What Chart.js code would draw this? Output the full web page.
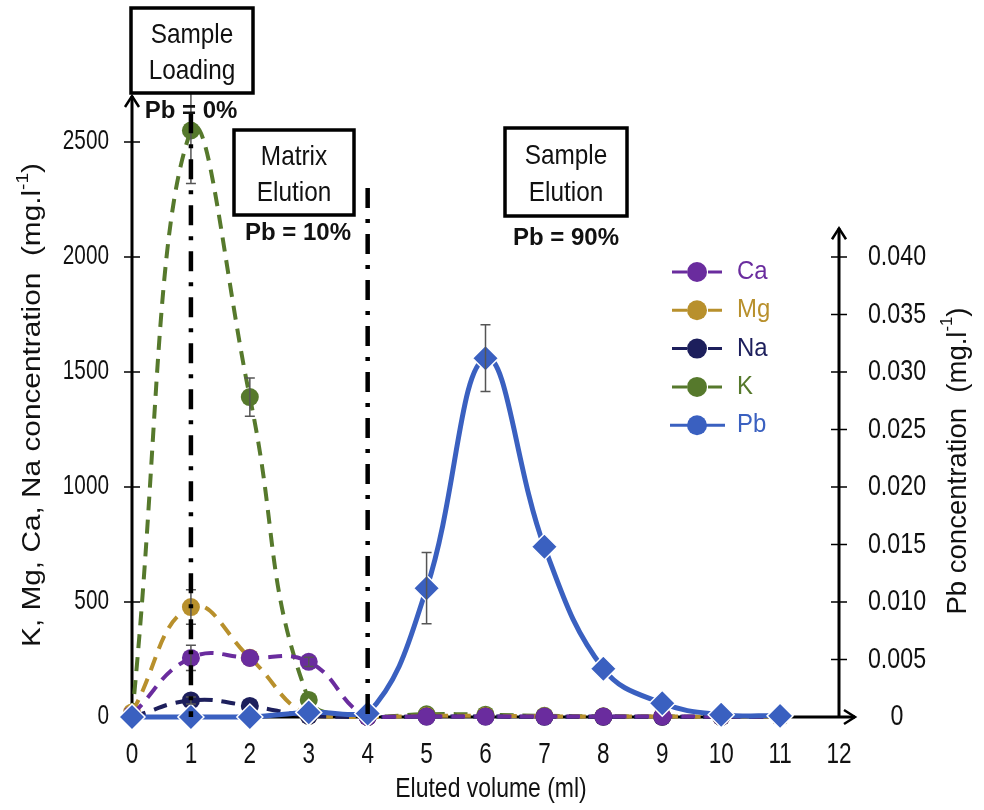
<!DOCTYPE html>
<html>
<head>
<meta charset="utf-8">
<script src="https://cdn.jsdelivr.net/npm/chart.js@4.4.1/dist/chart.umd.min.js"></script>
<style>
  body { margin: 0; background: #fff; }
  #wrap { width: 984px; height: 810px; position: relative; }
</style>
</head>
<body>
<div id="wrap"><canvas id="elutionChart"></canvas></div>
<script>
// eluted volume (ml)
const volumes = [0, 1, 2, 3, 4, 5, 6, 7, 8, 9, 10, 11];

// matrix elements (mg/l), left axis
const caValues = [10, 257, 257, 240, 0, 2, 2, 2, 2, 2, 2, 2];
const mgValues = [20, 478, 258, 5, 0, 5, 5, 3, 2, 2, 1, 1];
const naValues = [0, 72, 48, 5, 0, 2, 2, 1, 1, 1, 1, 1];
const kValues = [0, 2550, 1391, 74, 0, 12, 10, 5, 3, 2, 1, 1];
// lead (mg/l), right axis
const pbValues = [0, 0, 0, 0.0004, 0.0003, 0.0112, 0.0312, 0.0148, 0.0042, 0.0012, 0.0002, 0.0001];

// error bars (+/-)
const caErr = [0, 55, 0, 20, 0, 0, 0, 0, 0, 0, 0, 0];
const mgErr = [0, 75, 0, 0, 0, 0, 0, 0, 0, 0, 0, 0];
const naErr = [0, 15, 0, 0, 0, 0, 0, 0, 0, 0, 0, 0];
const kErr = [0, 230, 83, 0, 0, 0, 0, 0, 0, 0, 0, 0];
const pbErr = [0, 0, 0, 0, 0, 0.0031, 0.0029, 0, 0, 0, 0, 0];

// tick labels
const xTicks = [0, 1, 2, 3, 4, 5, 6, 7, 8, 9, 10, 11, 12];
const leftTicks = [0, 500, 1000, 1500, 2000, 2500];
const rightTicks = [0, 0.005, 0.010, 0.015, 0.020, 0.025, 0.030, 0.035, 0.040];

// phase boundaries (x position, top of the line in left-axis units)
const phaseX = [1, 4];
const phaseTop = [2625, 2300];

const SANS = '"Liberation Sans", Arial, sans-serif';

const colors = {
  Ca: '#6a2c9e',
  Mg: '#b8902c',
  Na: '#1d1f5c',
  K: '#56792c',
  Pb: '#3a60c0'
};

function toPoints(vals) {
  return vals.map((v, i) => ({ x: volumes[i], y: v }));
}

function dashedSeries(label, vals, err) {
  return {
    label: label,
    data: toPoints(vals),
    errors: err,
    yAxisID: 'y',
    borderColor: colors[label],
    backgroundColor: colors[label],
    borderWidth: 4,
    borderDash: [14, 9],
    tension: 0.45,
    pointStyle: 'circle',
    pointRadius: 9,
    pointBorderWidth: 0,
    pointBackgroundColor: colors[label],
    clip: false
  };
}

// horizontally condensed text (the figure uses a narrow face)
function narrowText(ctx, text, x, y, size, align, squeeze, weight) {
  ctx.save();
  ctx.translate(x, y);
  ctx.scale(squeeze, 1);
  ctx.font = (weight ? weight + ' ' : '') + size + 'px ' + SANS;
  ctx.textAlign = align;
  ctx.textBaseline = 'middle';
  ctx.fillText(text, 0, 0);
  ctx.restore();
}

// draw text stretched along its length, with an optional superscript part
function drawTitle(ctx, parts, cx, cy, size, length, angle) {
  ctx.save();
  ctx.translate(cx, cy);
  ctx.rotate(angle);
  let total = 0;
  parts.forEach(p => {
    ctx.font = (p.sup ? Math.round(size * 0.62) : size) + 'px ' + SANS;
    p.w = ctx.measureText(p.t).width;
    total += p.w;
  });
  ctx.scale(length / total, 1);
  ctx.fillStyle = '#111';
  ctx.textBaseline = 'middle';
  ctx.textAlign = 'left';
  let x = -total / 2;
  parts.forEach(p => {
    ctx.font = (p.sup ? Math.round(size * 0.62) : size) + 'px ' + SANS;
    ctx.fillText(p.t, x, p.sup ? -size * 0.38 : 0);
    x += p.w;
  });
  ctx.restore();
}

function arrowHead(ctx, x, y, dir) {
  ctx.beginPath();
  if (dir === 'up') {
    ctx.moveTo(x - 7, y + 11);
    ctx.lineTo(x, y);
    ctx.lineTo(x + 7, y + 11);
  } else {
    ctx.moveTo(x - 11, y - 7);
    ctx.lineTo(x, y);
    ctx.lineTo(x - 11, y + 7);
  }
  ctx.stroke();
}

const decorPlugin = {
  id: 'decor',
  beforeDatasetsDraw(chart) {
    const ctx = chart.ctx;
    const xs = chart.scales.x, ys = chart.scales.y, y2 = chart.scales.y2;
    const x0 = xs.getPixelForValue(0);
    const x12 = xs.getPixelForValue(12);
    const base = ys.getPixelForValue(0);
    ctx.save();
    ctx.strokeStyle = '#000';
    ctx.fillStyle = '#111';
    // tick crosses + labels
    ctx.lineWidth = 1.5;
    leftTicks.forEach(v => {
      const py = ys.getPixelForValue(v);
      ctx.beginPath(); ctx.moveTo(x0 - 8, py); ctx.lineTo(x0 + 8, py); ctx.stroke();
      narrowText(ctx, String(v), x0 - 23, py, 27, 'right', 0.77);
    });
    rightTicks.forEach(v => {
      const py = y2.getPixelForValue(v);
      ctx.beginPath(); ctx.moveTo(x12 - 8, py); ctx.lineTo(x12 + 8, py); ctx.stroke();
      narrowText(ctx, v === 0 ? '0' : v.toFixed(3), x12 + 58, py, 29, 'center', 0.8);
    });
    xTicks.forEach(v => {
      narrowText(ctx, String(v), xs.getPixelForValue(v), base + 38, 30, 'center', 0.75);
    });
    // axis lines
    ctx.lineWidth = 3;
    const leftTop = ys.top;
    const rightTop = y2.getPixelForValue(0.0425);
    ctx.beginPath(); ctx.moveTo(x0, base); ctx.lineTo(x0, leftTop); ctx.stroke();
    ctx.beginPath(); ctx.moveTo(x12, base); ctx.lineTo(x12, rightTop); ctx.stroke();
    ctx.beginPath(); ctx.moveTo(x0, base); ctx.lineTo(x12 + 16, base); ctx.stroke();
    ctx.lineWidth = 2.5;
    arrowHead(ctx, x0, leftTop, 'up');
    arrowHead(ctx, x12, rightTop, 'up');
    arrowHead(ctx, x12 + 16, base, 'right');
    ctx.restore();
  },
  afterDatasetsDraw(chart) {
    const ctx = chart.ctx;
    const xs = chart.scales.x, ys = chart.scales.y;
    ctx.save();
    // error bars
    ctx.strokeStyle = '#555';
    ctx.lineWidth = 1.5;
    chart.data.datasets.forEach(ds => {
      const scale = chart.scales[ds.yAxisID];
      ds.data.forEach((p, i) => {
        const e = ds.errors[i];
        if (!e) return;
        const px = xs.getPixelForValue(p.x);
        const top = scale.getPixelForValue(p.y + e);
        const bot = scale.getPixelForValue(p.y - e);
        ctx.beginPath();
        ctx.moveTo(px, top); ctx.lineTo(px, bot);
        ctx.moveTo(px - 5, top); ctx.lineTo(px + 5, top);
        ctx.moveTo(px - 5, bot); ctx.lineTo(px + 5, bot);
        ctx.stroke();
      });
    });
    // phase separators (dash-dot)
    ctx.strokeStyle = '#000';
    ctx.lineWidth = 4.5;
    ctx.setLineDash([20, 11, 4, 11]);
    phaseX.forEach((v, i) => {
      const px = xs.getPixelForValue(v);
      ctx.beginPath();
      ctx.moveTo(px, ys.getPixelForValue(phaseTop[i]));
      ctx.lineTo(px, ys.getPixelForValue(0));
      ctx.stroke();
    });
    ctx.restore();
  },
  afterDraw(chart) {
    const ctx = chart.ctx;
    ctx.save();

    // axis titles
    drawTitle(ctx, [{ t: 'K, Mg, Ca, Na concentration  (mg.l' }, { t: '-1', sup: true }, { t: ')' }],
      33, 405, 25, 484, -Math.PI / 2);
    drawTitle(ctx, [{ t: 'Pb concentration  (mg.l' }, { t: '-1', sup: true }, { t: ')' }],
      958, 461, 28, 307, -Math.PI / 2);
    ctx.fillStyle = '#111';
    narrowText(ctx, 'Eluted volume (ml)', 491, 789, 28, 'center', 0.82);

    // phase boxes
    const boxes = [
      { x: 131, y: 8, w: 122, h: 85, l1: 'Sample', l2: 'Loading', pb: 'Pb = 0%', pbX: 191, pbY: 111 },
      { x: 234, y: 130, w: 120, h: 85, l1: 'Matrix', l2: 'Elution', pb: 'Pb = 10%', pbX: 298, pbY: 233 },
      { x: 505, y: 128, w: 122, h: 88, l1: 'Sample', l2: 'Elution', pb: 'Pb = 90%', pbX: 566, pbY: 238 }
    ];
    boxes.forEach(b => {
      ctx.fillStyle = '#fff';
      ctx.fillRect(b.x, b.y, b.w, b.h);
      ctx.strokeStyle = '#000';
      ctx.lineWidth = 3.5;
      ctx.strokeRect(b.x, b.y, b.w, b.h);
      ctx.fillStyle = '#111';
      const cx = b.x + b.w / 2;
      narrowText(ctx, b.l1, cx, b.y + b.h * 0.32, 28, 'center', 0.87);
      narrowText(ctx, b.l2, cx, b.y + b.h * 0.74, 28, 'center', 0.87);
      narrowText(ctx, b.pb, b.pbX, b.pbY, 24, 'center', 1, 'bold');
    });

    // legend
    const legendItems = ['Ca', 'Mg', 'Na', 'K', 'Pb'];
    legendItems.forEach((name, i) => {
      const y = 272 + i * 38.3;
      const c = colors[name];
      ctx.strokeStyle = c;
      ctx.fillStyle = c;
      ctx.lineWidth = 3;
      ctx.beginPath();
      if (name === 'Pb') {
        ctx.moveTo(670, y); ctx.lineTo(725, y);
      } else {
        ctx.moveTo(672, y); ctx.lineTo(687, y);
        ctx.moveTo(708, y); ctx.lineTo(722, y);
      }
      ctx.stroke();
      ctx.beginPath();
      ctx.arc(697, y, 10, 0, Math.PI * 2);
      ctx.fill();
      narrowText(ctx, name, 737, y, 26, 'left', 0.92);
    });
    ctx.restore();
  }
};

const ctx = document.getElementById('elutionChart').getContext('2d');
new Chart(ctx, {
  type: 'line',
  data: {
    datasets: [
      {
        label: 'Pb',
        data: toPoints(pbValues),
        errors: pbErr,
        yAxisID: 'y2',
        borderColor: colors.Pb,
        backgroundColor: colors.Pb,
        borderWidth: 5,
        tension: 0.4,
        pointStyle: 'rectRot',
        pointRadius: 13,
        pointBackgroundColor: colors.Pb,
        pointBorderColor: '#fff',
        pointBorderWidth: 1.5,
        clip: false
      },
      dashedSeries('Ca', caValues, caErr),
      dashedSeries('Na', naValues, naErr),
      dashedSeries('Mg', mgValues, mgErr),
      dashedSeries('K', kValues, kErr)
    ]
  },
  options: {
    responsive: true,
    maintainAspectRatio: false,
    animation: false,
    layout: { padding: { top: 96, left: 0, right: 0, bottom: 0 } },
    plugins: {
      legend: { display: false },
      tooltip: { enabled: false }
    },
    scales: {
      x: {
        type: 'linear',
        position: 'bottom',
        min: 0,
        max: 12,
        afterBuildTicks: s => { s.ticks = xTicks.map(v => ({ value: v })); },
        afterFit: s => { s.height = 93; },
        grid: { display: false, drawTicks: false },
        border: { display: false },
        ticks: { display: false }
      },
      y: {
        type: 'linear',
        position: 'left',
        min: 0,
        max: 2700,
        afterBuildTicks: s => { s.ticks = leftTicks.map(v => ({ value: v })); },
        afterFit: s => { s.width = 132; },
        grid: { display: false, drawTicks: false },
        border: { display: false },
        ticks: { display: false }
      },
      y2: {
        type: 'linear',
        position: 'right',
        min: 0,
        max: 0.054,
        afterBuildTicks: s => { s.ticks = rightTicks.map(v => ({ value: v })); },
        afterFit: s => { s.width = 145; },
        grid: { display: false, drawTicks: false },
        border: { display: false },
        ticks: { display: false }
      }
    }
  },
  plugins: [decorPlugin]
});
</script>
</body>
</html>
